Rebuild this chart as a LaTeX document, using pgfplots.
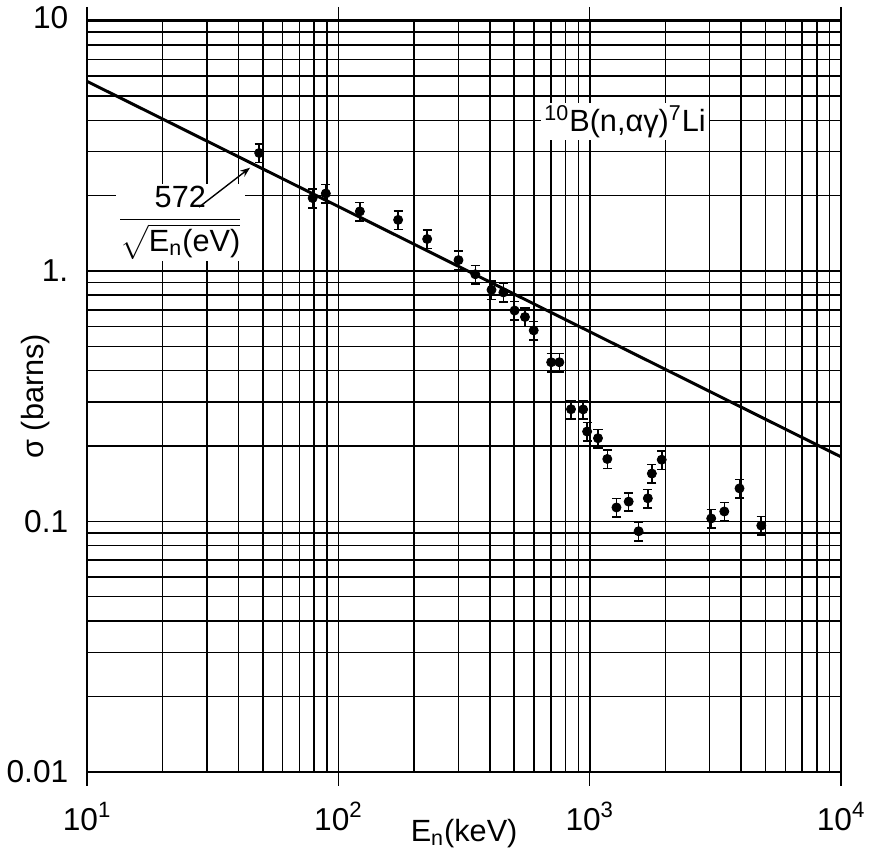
\documentclass[border=0pt]{standalone}
\usepackage{fontspec}
\setmainfont{Liberation Sans}
\usepackage{amsmath}
\usepackage{pgfplots}
\pgfplotsset{compat=1.18}
\usetikzlibrary{arrows.meta}

\newcommand{\lab}{\fontsize{15.5}{18}\selectfont}
\newcommand{\tlab}{\fontsize{16}{19}\selectfont}

\begin{document}
\begin{tikzpicture}
\begin{axis}[
  xmode=log, ymode=log,
  scale only axis, width=381pt, height=379.5pt,
  xmin=10, xmax=10000, ymin=0.01, ymax=10,
  axis line style={line width=1.2pt},
  grid=both,
  major grid style={black, line width=0.75pt},
  minor grid style={black, line width=0.75pt},
  xtick={10,100,1000,10000},
  xticklabels={10\textsuperscript{1},10\textsuperscript{2},10\textsuperscript{3},10\textsuperscript{4}},
  ytick={0.01,0.1,1,10},
  yticklabels={0.01,0.1,1.,\raisebox{3pt}{10}},
  tick align=outside,
  major tick length=7pt,
  minor tick length=0pt,
  ytick style={draw=none},
  xtick style={black, line width=0.7pt},
  tick label style={font=\tlab},
  yticklabel style={xshift=1pt},
  xticklabel style={yshift=-5pt},
  xlabel={E\textsubscript{n}(keV)},
  ylabel={σ (barns)},
  label style={font=\lab},
  xlabel style={yshift=12.5pt},
  ylabel style={at={(axis description cs:-0.068,0.5)}, anchor=center},
  clip=false,
]
% 572/sqrt(E[eV]) with E in keV
\addplot[black, line width=1.5pt] coordinates {(10,5.72) (10000,0.1809)};

\addplot[black, only marks, mark=*, mark size=2.3pt,
  error bars/.cd, y dir=both, y explicit relative,
  error bar style={line width=0.8pt},
  error mark options={rotate=90, black, mark size=2.3pt, line width=0.8pt}]
coordinates {
  (48.4,2.96)   +- (0,0.085)
  (79.0,1.956)  +- (0,0.085)
  (89.1,2.04)   +- (0,0.085)
  (121.7,1.73)  +- (0,0.085)
  (172.8,1.60)  +- (0,0.085)
  (225.5,1.342) +- (0,0.085)
  (300.4,1.105) +- (0,0.085)
  (350.4,0.970) +- (0,0.085)
  (406.5,0.841) +- (0,0.085)
  (453.3,0.821) +- (0,0.085)
  (502.2,0.695) +- (0,0.085)
  (552.3,0.655) +- (0,0.085)
  (598.3,0.579) +- (0,0.085)
  (702.3,0.432) +- (0,0.085)
  (756.9,0.432) +- (0,0.085)
  (842,0.2804)  +- (0,0.085)
  (941,0.280)   +- (0,0.085)
  (975.9,0.2284) +- (0,0.085)
  (1078,0.2148) +- (0,0.085)
  (1174,0.1775) +- (0,0.085)
  (1277,0.1136) +- (0,0.085)
  (1428,0.1199) +- (0,0.085)
  (1564,0.0913) +- (0,0.085)
  (1702,0.1236) +- (0,0.085)
  (1766,0.1552) +- (0,0.085)
  (1933,0.1763) +- (0,0.085)
  (3042,0.1027) +- (0,0.085)
  (3430,0.1095) +- (0,0.085)
  (3942,0.1354) +- (0,0.085)
  (4812,0.0962) +- (0,0.085)
};

\node[fill=white, inner sep=1.5pt, anchor=west, font=\lab]
  at (axis cs:640,3.95) {\textsuperscript{10}B(n,αγ)\textsuperscript{7}Li};
\node[fill=white, inner sep=1pt, font=\lab]
  at (axis cs:23.5,1.56) {$\dfrac{\text{572}}{\sqrt{\text{E}_{\text{n}}\text{(eV)}}}$};
\draw[-{Stealth[length=5pt]}, line width=0.7pt]
  (axis cs:27.9,1.80) -- (axis cs:44.5,2.585);
\end{axis}
\end{tikzpicture}
\end{document}
